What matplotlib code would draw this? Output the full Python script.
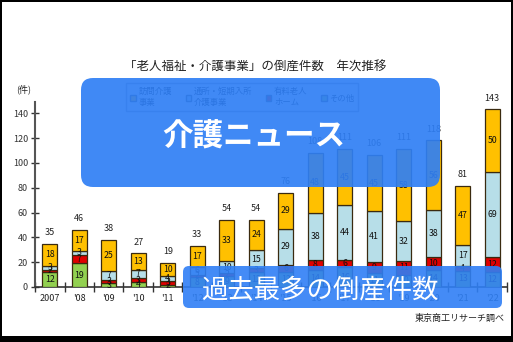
import matplotlib
matplotlib.use("Agg")
import matplotlib.pyplot as plt
import numpy as np
from matplotlib.patches import FancyBboxPatch, Rectangle, Patch
from matplotlib.transforms import IdentityTransform

plt.rcParams['font.family'] = ['Noto Sans CJK JP', 'DejaVu Sans']

# ---- data ----
years = ["2007", "'08", "'09", "'10", "'11", "'12", "'13", "'14",
         "'15", "'16", "'17", "'18", "'19", "'20", "'21", "'22"]
sonota   = [12, 19, 3, 4, 2, 8, 9, 12, 12, 14, 16, 11, 10, 14, 13, 12]   # その他 (green)
yuryo    = [2, 7, 3, 3, 3, 2, 2, 3, 6, 8, 6, 9, 11, 10, 4, 12]          # 有料老人ホーム (red)
tsusho   = [3, 3, 7, 7, 4, 6, 10, 15, 29, 38, 44, 41, 32, 38, 17, 69]  # 通所・短期入所介護事業 (light blue)
homon    = [18, 17, 25, 13, 10, 17, 33, 24, 29, 48, 45, 45, 58, 56, 47, 50]  # 訪問介護事業 (orange)
legend_labels = ["訪問介護\n事業", "通所・短期入所\n介護事業", "有料老人\nホーム", "その他"]

W, H = 513, 342
fig = plt.figure(figsize=(W / 100, H / 100), dpi=100)
fig.patch.set_facecolor('white')

def fx(px):
    return px / W

def fy(py):
    return (H - py) / H

ax = fig.add_axes([fx(35), fy(287), fx(507) - fx(35), fy(102) - fy(287)])
ax.set_facecolor('none')

x = np.arange(len(years))
colors = {'sonota': '#92D050', 'yuryo': '#E00000', 'tsusho': '#B7DEE8', 'homon': '#FFC000'}
series = [(sonota, colors['sonota']), (yuryo, colors['yuryo']),
          (tsusho, colors['tsusho']), (homon, colors['homon'])]
bottom = np.zeros(len(years))
for vals, c in series:
    v = np.array(vals, dtype=float)
    ax.bar(x, v, bottom=bottom, width=0.52, color=c, edgecolor='#3a2a10', linewidth=0.9, zorder=3)
    for xi, (b, vv) in enumerate(zip(bottom, v)):
        if vv >= 2:
            ax.text(xi, b + vv / 2, f"{int(vv)}", ha='center', va='center',
                    fontsize=6.3, color='#111111', zorder=4)
    bottom += v

for xi, t in enumerate(bottom):
    ax.annotate(f"{int(t)}", (xi, t), xytext=(0, 5), textcoords='offset points',
                ha='center', va='bottom', fontsize=6.5, color='#222222')

ax.set_xlim(-0.5, 15.5)
ax.set_ylim(0, 149)
ax.set_yticks(np.arange(0, 141, 20))
ax.tick_params(axis='y', direction='inout', length=6, width=1, labelsize=6.5, pad=2, colors='#333333')
ax.set_xticks(x)
ax.set_xticklabels(years)
ax.tick_params(axis='x', which='major', length=0, labelsize=6.5, pad=5, colors='#222222')
ax.set_xticks(np.arange(-0.5, 15.6, 1), minor=True)
ax.tick_params(axis='x', which='minor', direction='inout', length=7, width=1, color='#333333')
for s in ['top', 'right']:
    ax.spines[s].set_visible(False)
ax.spines['left'].set_color('#555555')
ax.spines['left'].set_linewidth(1.5)
ax.spines['bottom'].set_color('#333333')
ax.spines['bottom'].set_linewidth(1.2)

# title and unit
fig.text(fx(255), fy(67), "「老人福祉・介護事業」の倒産件数　年次推移", ha='center', va='center',
         fontsize=9, color='#222222')
fig.text(fx(24), fy(89), "(件)", ha='center', va='center', fontsize=6.5, color='#222222')
fig.text(fx(505), fy(318), "東京商工リサーチ調べ", ha='right', va='center', fontsize=6.5, color='#222222')

# legend
handles = [Patch(facecolor=colors['homon'], edgecolor='#444444'),
           Patch(facecolor=colors['tsusho'], edgecolor='#444444'),
           Patch(facecolor=colors['yuryo'], edgecolor='#444444'),
           Patch(facecolor=colors['sonota'], edgecolor='#444444')]
leg = fig.legend(handles, legend_labels, loc='upper left', bbox_to_anchor=(fx(122), fy(79)),
                 ncol=4, fontsize=6, frameon=True, fancybox=False, edgecolor='#888888',
                 handlelength=0.7, handleheight=0.7, handletextpad=0.3, columnspacing=1.6,
                 borderpad=0.5)
leg.set_zorder(6)

# overlays (pixel coordinates)
def overlay(x0, y0, x1, y1, r, alpha):
    p = FancyBboxPatch((x0, H - y1), x1 - x0, y1 - y0,
                       boxstyle=f"round,pad=0,rounding_size={r}",
                       transform=IdentityTransform(), facecolor='#2F7FF5', edgecolor='none',
                       alpha=alpha, zorder=10)
    fig.patches.append(p)

overlay(81, 78, 440, 187, 12, 0.92)
overlay(183, 266, 502, 308, 6, 0.9)
fig.text(fx(254), fy(137), "介護ニュース", ha='center', va='center', fontsize=22,
         fontweight='bold', color='white', zorder=11)
fig.text(fx(320), fy(290), "過去最多の倒産件数", ha='center', va='center', fontsize=19,
         color='white', zorder=11)

# black frame
for (x0, y0, w, h) in [(0, 0, W, 2), (0, 0, 2, H), (W - 2, 0, 2, H), (0, H - 6, W, 6)]:
    fig.patches.append(Rectangle((x0, H - y0 - h), w, h, transform=IdentityTransform(),
                                 facecolor='black', edgecolor='none', zorder=12))

fig.savefig("out.png", dpi=100)
